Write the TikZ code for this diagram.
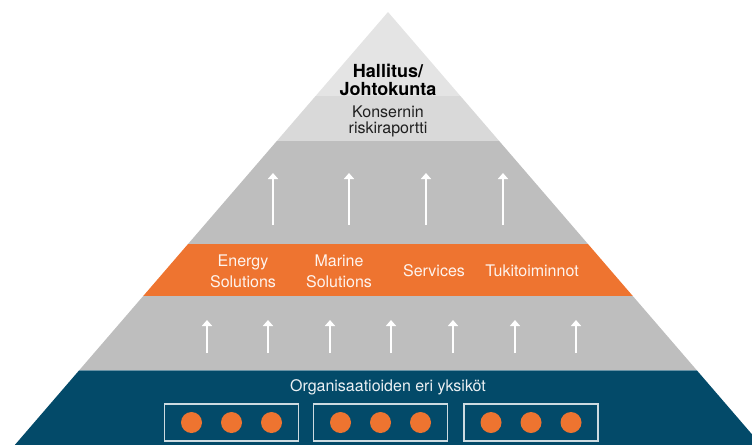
\documentclass[tikz,border=0pt]{standalone}
\usepackage{fontspec}
\setmainfont{TeX Gyre Heros}
\usetikzlibrary{arrows.meta}
\definecolor{toplight}{HTML}{E4E4E4}
\definecolor{midlight}{HTML}{D9D9D9}
\definecolor{pgray}{HTML}{BEBEBE}
\definecolor{porange}{HTML}{EE7430}
\definecolor{pnavy}{HTML}{034A69}

\tikzset{
  lbl/.style={align=center, inner sep=0pt, font=\fontsize{16}{16}\selectfont},
  orlbl/.style={lbl, text=white!92!porange, font=\fontsize{16}{21}\selectfont},
  upar/.style={white, line width=1.5pt, -{Triangle[width=10pt,length=6pt]}},
  unitbox/.style={draw=white!80!pnavy, line width=1.2pt, minimum width=134pt, minimum height=37pt},
  dot/.style={circle, fill=porange, minimum size=21pt, inner sep=0pt}
}

\begin{document}
\begin{tikzpicture}[x=1pt,y=-1pt]
\useasboundingbox (0,0) rectangle (752,445);
\begin{scope}
\clip (0,0) rectangle (752,445);
\clip (388,12) -- (14.8,445) -- (761.2,445) -- cycle;
\fill[toplight] (0,0) rectangle (752,96);
\fill[midlight] (0,96) rectangle (752,141);
\fill[pgray] (0,141) rectangle (752,244);
\fill[porange] (0,244) rectangle (752,296);
\fill[pgray] (0,296) rectangle (752,370);
\fill[pnavy] (0,370) rectangle (752,445);
\draw[line width=1pt, pnavy!60!white] (0,370.5) -- (752,370.5);
\end{scope}

% top levels
\node[lbl, font=\fontsize{18}{18}\selectfont\bfseries] (board) at (388,79.5) {Hallitus/\\Johtokunta};
\node[lbl, text=black!88] (report) at (388,121) {Konsernin\\riskiraportti};

\foreach \x [count=\i] in {273,349,426,503}
  \draw[upar] (\x,225) coordinate (upfoot\i) -- (\x,173) coordinate (uptip\i);

% business areas
\node[orlbl] (energy) at (243,271) {Energy\\Solutions};
\node[orlbl] (marine) at (339,271) {Marine\\Solutions};
\node[orlbl] (services) at (434,271) {Services};
\node[orlbl] (support) at (532,271) {Tukitoiminnot};

\foreach \x [count=\i] in {207,268,330,391,453,515,576}
  \draw[upar] (\x,353) coordinate (lofoot\i) -- (\x,320) coordinate (lotip\i);

% units
\node[lbl, text=white!92!pnavy] (units) at (388,387) {Organisaatioiden eri yksiköt};
\foreach \cx [count=\b] in {231.5,380.5,531}{
  \node[unitbox] (box\b) at (\cx,422.5) {};
  \foreach \dx [count=\d] in {-40,0,40}
    \node[dot] (dot\b\d) at ([xshift=\dx pt]box\b.center) {};
}
\end{tikzpicture}
\end{document}
